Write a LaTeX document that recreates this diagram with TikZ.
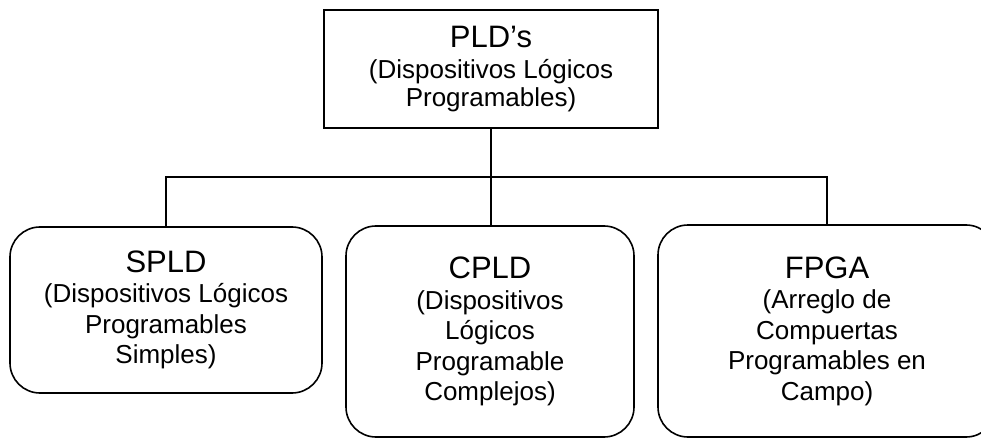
\documentclass[tikz,border=0pt]{standalone}
\usepackage{fontspec}
\setmainfont{Liberation Sans}
\begin{document}
\begin{tikzpicture}[x=1pt,y=-1pt,
  line width=1.6pt,
  topbox/.style={draw,rectangle,inner sep=0pt,outer sep=0pt,align=center,
    font=\fontsize{26}{28}\selectfont},
  leafbox/.style={draw,rectangle,rounded corners=30pt,inner sep=0pt,outer sep=0pt,align=center,
    font=\fontsize{26}{30.5}\selectfont},
  big/.style={}]
\useasboundingbox (0,0) rectangle (981,438);
\node[topbox,minimum width=334pt,minimum height=118pt] (pld) at (491,69)
  {{\fontsize{31}{31}\selectfont PLD’s}\\[3pt](Dispositivos Lógicos\\Programables)};
\node[leafbox,minimum width=312pt,minimum height=166pt] (spld) at (166,310)
  {{\fontsize{31}{31}\selectfont SPLD}\\(Dispositivos Lógicos\\Programables\\Simples)};
\node[leafbox,minimum width=288pt,minimum height=211pt] (cpld) at (490,331.5)
  {{\fontsize{31}{31}\selectfont CPLD}\\(Dispositivos\\Lógicos\\Programable\\Complejos)};
\node[leafbox,minimum width=338pt,minimum height=212pt] (fpga) at (827,331)
  {{\fontsize{31}{31}\selectfont FPGA}\\(Arreglo de\\Compuertas\\Programables en\\Campo)};
\coordinate (j) at (491,177);
\draw (pld.south) -- (j);
\draw (spld.north -| 166,0) |- (j) -| (fpga.north);
\draw (j) -- (j |- cpld.north);
\end{tikzpicture}
\end{document}
